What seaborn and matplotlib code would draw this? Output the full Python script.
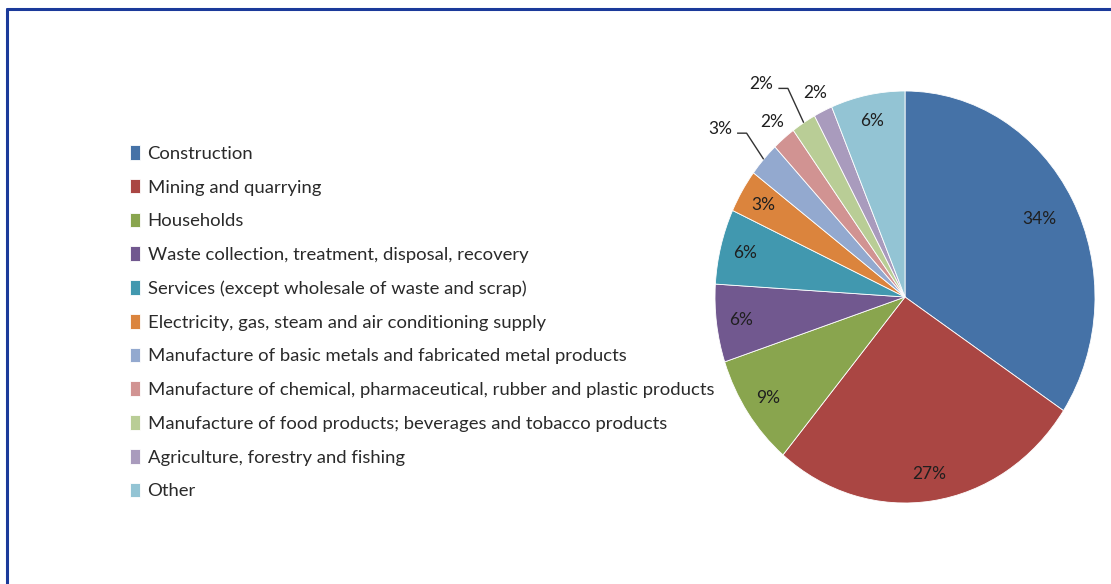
import numpy as np
import matplotlib
matplotlib.use("Agg")
import matplotlib.pyplot as plt
import seaborn as sns
from matplotlib.lines import Line2D

categories = [
    "Construction",
    "Mining and quarrying",
    "Households",
    "Waste collection, treatment, disposal, recovery",
    "Services (except wholesale of waste and scrap)",
    "Electricity, gas, steam and air conditioning supply",
    "Manufacture of basic metals and fabricated metal products",
    "Manufacture of chemical, pharmaceutical, rubber and plastic products",
    "Manufacture of food products; beverages and tobacco products",
    "Agriculture, forestry and fishing",
    "Other",
]
shares = [34.3, 26.8, 8.8, 6.1, 5.9, 3.4, 2.7, 2.0, 2.1, 1.6, 6.3]
pct_labels = ["34%", "27%", "9%", "6%", "6%", "3%", "3%", "2%", "2%", "2%", "6%"]

colors = ["#4572A7", "#AA4643", "#89A54E", "#71588F", "#4198AF", "#DB843D",
          "#93A9CF", "#D19392", "#B9CD96", "#A99BBD", "#93C4D4"]

sns.set_theme(style="white")
plt.rcParams["font.family"] = ["Lato", "DejaVu Sans"]

W, H = 1111, 584
fig = plt.figure(figsize=(W / 100, H / 100), dpi=100)
fig.patch.set_facecolor("white")

# pie axes spans the pie's bounding box
px_l, px_r, px_t, px_b = 715, 1095, 91, 503
ax = fig.add_axes([px_l / W, (H - px_b) / H, (px_r - px_l) / W, (px_b - px_t) / H])
palette = sns.color_palette(colors)
wedges, _ = ax.pie(shares, colors=palette, startangle=90, counterclock=False,
                   radius=1, wedgeprops=dict(edgecolor="white", linewidth=0.6))
ax.set_aspect("auto")
ax.set_xlim(-1, 1)
ax.set_ylim(-1, 1)
ax.axis("off")

# label placement style: (radius, angle nudge in degrees, leader line?)
label_style = {
    0: (0.80, 0, False),
    6: (1.27, 2, True),
    7: (1.10, 0, False),
    8: (1.28, 4, True),
    9: (1.10, 0, False),
}
txt_color = "#1f1f1f"
for i, w in enumerate(wedges):
    mid = np.deg2rad((w.theta1 + w.theta2) / 2)
    r, nudge, leader = label_style.get(i, (0.87, 0, False))
    a = mid + np.deg2rad(nudge)
    x, y = r * np.cos(a), r * np.sin(a)
    ax.text(x, y, pct_labels[i], ha="center", va="center", fontsize=12.5,
            color=txt_color, clip_on=False)
    if leader:
        rx, ry = np.cos(mid), np.sin(mid)
        x0 = x + 0.09
        x1 = x0 + 0.05
        yl = y - 0.02
        ax.plot([x0, x1, rx], [yl, yl, ry], color="#333333", lw=1.0,
                clip_on=False, solid_capstyle="butt")

leg = fig.legend(wedges, categories, loc="upper left",
                 bbox_to_anchor=(130 / W, 1 - 145 / H),
                 frameon=False, fontsize=13.3, handlelength=0.55,
                 handleheight=0.85, handletextpad=0.4, labelspacing=0.92,
                 borderaxespad=0, borderpad=0)
for t in leg.get_texts():
    t.set_color("#2a2a2a")

# frame lines (left and top) of the chart box
bc = "#1B3A9A"
fig.add_artist(Line2D([6.5 / W, 6.5 / W], [0, 1 - 8.5 / H], color=bc, lw=2.2,
                      transform=fig.transFigure))
fig.add_artist(Line2D([6.5 / W, 1], [1 - 8.5 / H, 1 - 8.5 / H], color=bc, lw=2.2,
                      transform=fig.transFigure))

fig.savefig("out.png", dpi=100)
